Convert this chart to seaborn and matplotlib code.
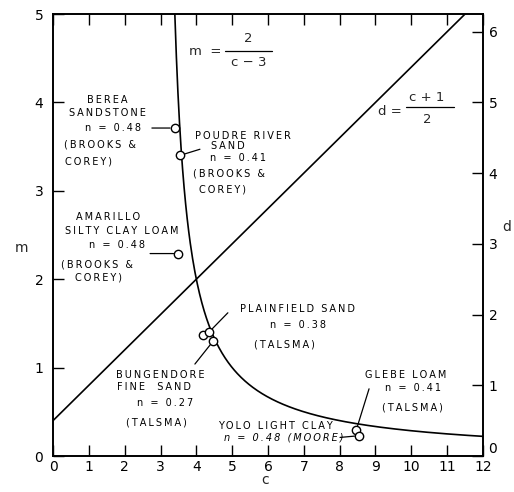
import numpy as np
import pandas as pd
import matplotlib
matplotlib.use("Agg")
import matplotlib.pyplot as plt
import seaborn as sns

# Measured soil parameters (c, m)
soils = ["Berea sandstone", "Poudre River sand", "Amarillo silty clay loam",
         "Bungendore fine sand (a)", "Plainfield sand", "Bungendore fine sand (b)",
         "Glebe loam", "Yolo light clay"]
c_vals = [3.40, 3.54, 3.50, 4.18, 4.35, 4.47, 8.46, 8.55]
m_vals = [3.71, 3.40, 2.29, 1.37, 1.40, 1.30, 0.29, 0.23]

x_ticks = list(range(0, 13))
m_ticks = [0, 1, 2, 3, 4, 5]
d_ticks = [0, 1, 2, 3, 4, 5, 6]

# Theoretical relations m = 2/(c-3) and d = (c+1)/2
c_curve = np.linspace(3.4, 12, 400)
curve = pd.DataFrame({"c": c_curve, "m": 2.0 / (c_curve - 3.0)})
c_line = np.linspace(0, 12, 50)
line = pd.DataFrame({"c": c_line, "d": (c_line + 1.0) / 2.0})
pts = pd.DataFrame({"soil": soils, "c": c_vals, "m": m_vals})

sns.set_style("ticks")
plt.rcParams["font.family"] = ["DejaVu Sans"]

fig = plt.figure(figsize=(5.14, 4.92), dpi=100)
ax = fig.add_axes([53 / 514, 36 / 492, 430 / 514, 442 / 492])
ax2 = ax.twinx()

sns.lineplot(data=curve, x="c", y="m", ax=ax, color="black", lw=1.2, sort=False)
sns.lineplot(data=line, x="c", y="d", ax=ax2, color="black", lw=1.2, sort=False)

ax.set_xlim(0, 12)
ax.set_ylim(0, 5)
ax2.set_ylim(0, 6.25)
ax.set_xticks(x_ticks)
ax.set_yticks(m_ticks)
ax2.set_yticks(d_ticks)
ax.set_xlabel("")
ax.set_ylabel("")
ax2.set_ylabel("")

for a in (ax, ax2):
    for s in a.spines.values():
        s.set_visible(True)
        s.set_linewidth(1.2)
        s.set_color("black")
ax.tick_params(axis="both", direction="in", length=8, width=1.0, labelsize=10,
               top=True, colors="black")
ax.tick_params(axis="y", pad=7)
ax.tick_params(axis="x", labeltop=False, pad=3)
ax2.tick_params(axis="y", direction="in", length=8, width=1.0, labelsize=10, pad=4,
                colors="black")
# the d = 0 label sits just above the corner, clear of the "12"
ax2.get_yticklabels()[0].set_va("bottom")

ax.set_zorder(ax2.get_zorder() + 1)
ax.patch.set_visible(False)

sns.scatterplot(data=pts, x="c", y="m", ax=ax, s=36, facecolor="white",
                edgecolor="black", linewidth=1.0, zorder=5, legend=False)
ax.set_xlabel("")
ax.set_ylabel("")

fs = 7.0
def spaced(s):
    # open up the lettering a little, like stencil lettering
    return "\u2009".join(s)

def label(x, y, s, **kw):
    ax.text(x, y, spaced(s), fontsize=fs, ha="center", va="center", color="black", **kw)

def leader(i, x, y):
    ax.annotate("", xy=(c_vals[i], m_vals[i]), xytext=(x, y),
                arrowprops=dict(arrowstyle="-", color="black", lw=0.9,
                                shrinkA=0, shrinkB=3.5))

# Berea sandstone
label(1.51, 4.03, "BEREA")
label(1.51, 3.88, "SANDSTONE")
label(1.67, 3.71, "n = 0.48")
label(1.31, 3.52, "(BROOKS &")
label(0.98, 3.33, "COREY)")
leader(0, 2.76, 3.71)

# Poudre River sand
label(5.30, 3.62, "POUDRE RIVER")
label(4.88, 3.51, "SAND")
label(5.16, 3.37, "n = 0.41")
label(4.91, 3.20, "(BROOKS &")
label(4.72, 3.01, "COREY)")
leader(1, 4.10, 3.47)

# Amarillo silty clay loam
label(1.54, 2.70, "AMARILLO")
label(1.93, 2.55, "SILTY CLAY LOAM")
label(1.79, 2.39, "n = 0.48")
label(1.23, 2.17, "(BROOKS &")
label(1.28, 2.02, "COREY)")
leader(2, 2.71, 2.29)

# Plainfield sand
label(6.81, 1.66, "PLAINFIELD SAND")
label(6.84, 1.48, "n = 0.38")
label(6.47, 1.26, "(TALSMA)")
leader(4, 4.88, 1.62)

# Bungendore fine sand
label(2.99, 0.92, "BUNGENDORE")
label(2.82, 0.78, "FINE  SAND")
label(3.13, 0.60, "n = 0.27")
label(2.90, 0.38, "(TALSMA)")
leader(5, 3.96, 1.04)

# Glebe loam
label(9.85, 0.92, "GLEBE LOAM")
label(10.05, 0.77, "n = 0.41")
label(10.02, 0.55, "(TALSMA)")
leader(6, 8.82, 0.76)

# Yolo light clay
label(6.20, 0.34, "YOLO LIGHT CLAY")
label(6.45, 0.21, "n = 0.48 (MOORE)", style="italic")
leader(7, 8.01, 0.21)

# Equations
efs = 9.5
ax.text(4.24, 4.58, "m  =", fontsize=efs, ha="center", va="center")
ax.text(5.45, 4.72, "2", fontsize=efs, ha="center", va="center")
ax.plot([4.80, 6.11], [4.58, 4.58], color="black", lw=0.9)
ax.text(5.45, 4.45, "c − 3", fontsize=efs, ha="center", va="center")

ax.text(9.41, 3.90, "d =", fontsize=efs, ha="center", va="center")
ax.text(10.44, 4.06, "c + 1", fontsize=efs, ha="center", va="center")
ax.plot([9.85, 11.19], [3.95, 3.95], color="black", lw=0.9)
ax.text(10.44, 3.81, "2", fontsize=efs, ha="center", va="center")

# Axis titles
fig.text(22 / 514, 1 - 248 / 492, "m", fontsize=10, ha="center", va="center")
fig.text(507 / 514, 1 - 227 / 492, "d", fontsize=10, ha="center", va="center")
fig.text(265 / 514, 1 - 480 / 492, "c", fontsize=10, ha="center", va="center")

fig.savefig("out.png", dpi=100)
